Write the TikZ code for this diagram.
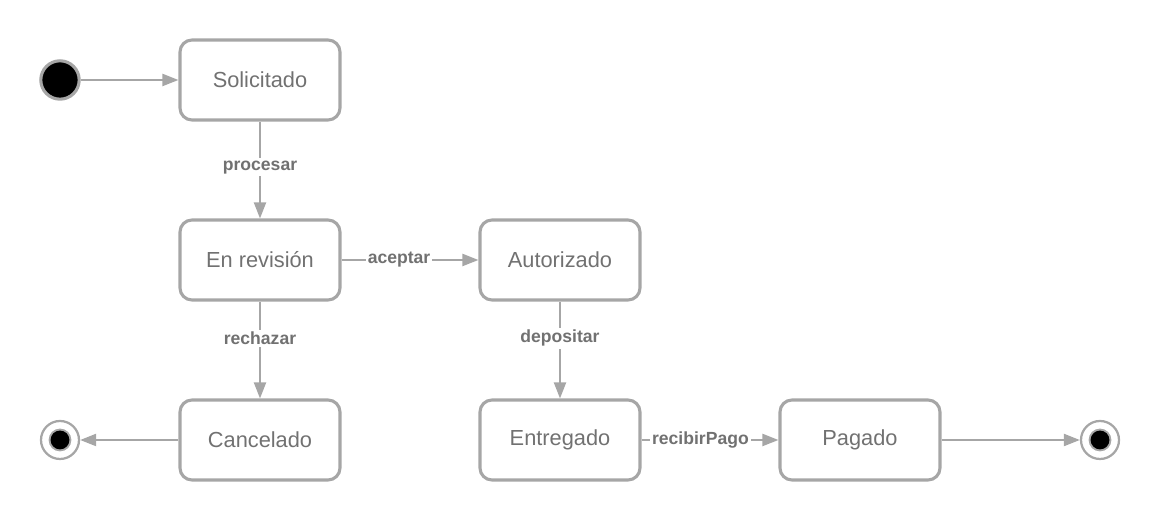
\documentclass[tikz,border=0pt]{standalone}
\usepackage{fontspec}
\setmainfont{Liberation Sans}
\usepackage{tikz}
\usetikzlibrary{arrows.meta}
\definecolor{linegray}{HTML}{A6A6A6}
\definecolor{textgray}{HTML}{717171}
\tikzset{st/.style={draw=linegray,line width=2.2pt,rounded corners=0.3cm,minimum width=4cm,minimum height=2cm,text=textgray,font=\fontsize{15.5}{15.5}\selectfont}}
\tikzset{l/.style={fill=white,inner sep=1.5pt,text=textgray,font=\bfseries\fontsize{12.5}{12.5}\selectfont}}
\tikzset{ini/.style={circle,fill=black,draw=linegray,line width=2.2pt,minimum size=0.96cm,inner sep=0pt}}
\tikzset{fin/.style={circle,draw=linegray,line width=1.6pt,minimum size=0.95cm,inner sep=0pt,
  path picture={\fill[linegray] (path picture bounding box.center) circle (0.285cm);
                \fill[black] (path picture bounding box.center) circle (0.235cm);}}}

\begin{document}
\begin{tikzpicture}[>={Triangle[length=0.4cm,width=0.3cm]},every edge/.style={draw=linegray,line width=1.5pt}]
  \useasboundingbox (0,0) rectangle (29,13);
  \node (ini) [ini] at (1.5,11) {};
  \node (S) [st] at (6.5,11) {Solicitado}
    edge [<-] (ini);
  \node (R) [st] at (6.5,6.5) {En revisión}
    edge [<-] node [l, pos=0.53] {procesar} (S);
  \node (A) [st] at (14,6.5) {Autorizado}
    edge [<-] node [l, pos=0.58] {aceptar} (R);
  \node (C) [st] at (6.5,2) {Cancelado}
    edge [<-] node [l, pos=0.62] {rechazar} (R);
  \node (E) [st] at (14,2) {Entregado}
    edge [<-] node [l, pos=0.62] {depositar} (A);
  \node (P) [st] at (21.5,2) {Pagado}
    edge [<-] node [l, pos=0.57] {recibirPago} (E);
  \node (f1) [fin] at (1.5,2) {}
    edge [<-] (C);
  \node (f2) [fin] at (27.5,2) {}
    edge [<-] (P);
\end{tikzpicture}
\end{document}
